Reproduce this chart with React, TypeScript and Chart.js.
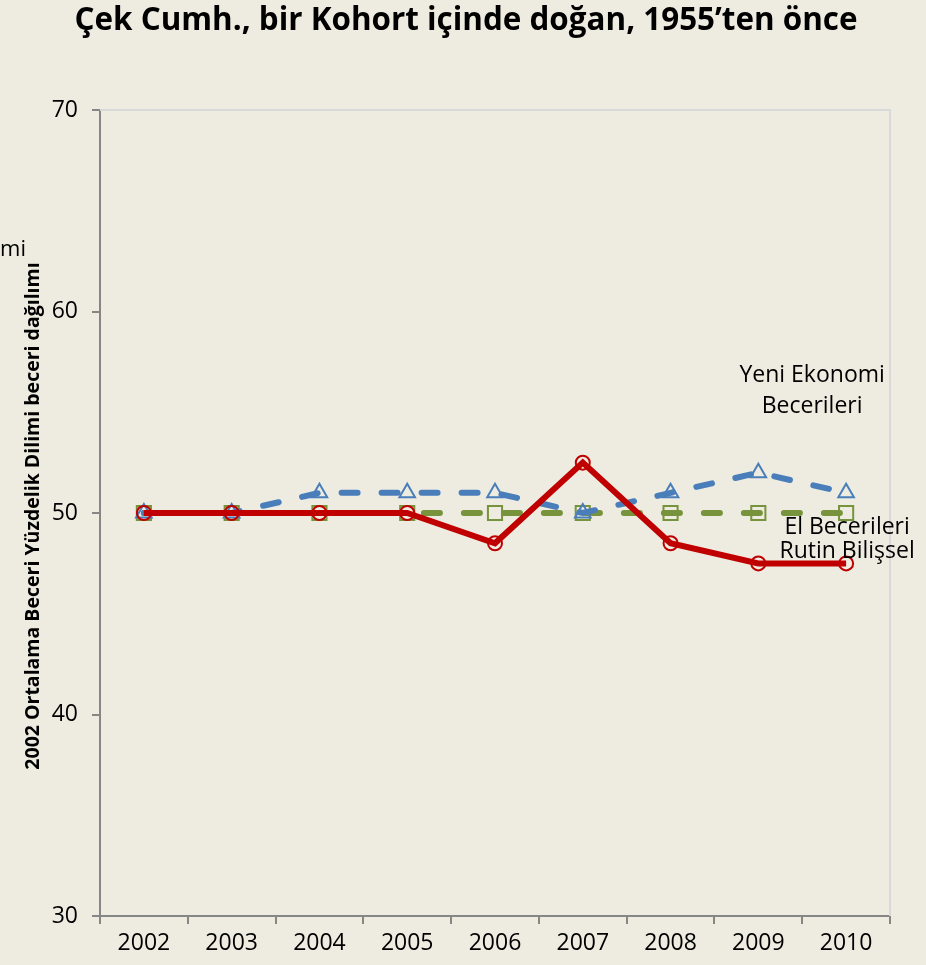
import React, { useEffect, useRef } from "react";
import { Chart, registerables } from "chart.js";

Chart.register(...registerables);

const years = ["2002", "2003", "2004", "2005", "2006", "2007", "2008", "2009", "2010"];
const yeniEkonomi = [50, 50, 51, 51, 51, 50, 51, 52, 51];
const elBecerileri = [50, 50, 50, 50, 50, 50, 50, 50, 50];
const rutinBilissel = [50, 50, 50, 50, 48.5, 52.5, 48.5, 47.5, 47.5];
const yTicks = [30, 40, 50, 60, 70];

const titleText = "Çek Cumh., bir Kohort içinde doğan, 1955’ten önce";
const yTitleText = "2002 Ortalama Beceri Yüzdelik Dilimi beceri dağılımı";

const BG = "#EEECE1";
const FONT = "'Open Sans', sans-serif";

const decorPlugin = {
  id: "decor",
  beforeDraw(chart: any) {
    const { ctx, width, height } = chart;
    ctx.save();
    ctx.fillStyle = BG;
    ctx.fillRect(0, 0, width, height);
    ctx.restore();
  },
  beforeDatasetsDraw(chart: any) {
    const { ctx, chartArea } = chart;
    ctx.save();
    ctx.strokeStyle = "#D9D9D9";
    ctx.lineWidth = 2;
    ctx.beginPath();
    ctx.moveTo(chartArea.left, chartArea.top);
    ctx.lineTo(chartArea.right, chartArea.top);
    ctx.lineTo(chartArea.right, chartArea.bottom);
    ctx.stroke();
    ctx.restore();
  },
  afterDraw(chart: any) {
    const { ctx, width, chartArea } = chart;
    const xs = chart.scales.x;
    const ys = chart.scales.y;
    ctx.save();
    ctx.fillStyle = "#000";
    ctx.font = `bold 31.4px ${FONT}`;
    ctx.textAlign = "center";
    ctx.textBaseline = "middle";
    ctx.fillText(titleText, width / 2 + 3, 21);
    ctx.save();
    ctx.translate(33, (chartArea.top + chartArea.bottom) / 2 + 3);
    ctx.rotate(-Math.PI / 2);
    ctx.font = `bold 19.5px ${FONT}`;
    ctx.fillText(yTitleText, 0, 0);
    ctx.restore();
    ctx.font = `22px ${FONT}`;
    ctx.textAlign = "right";
    ctx.fillText("Dilimi", 26, 250);
    ctx.font = `23px ${FONT}`;
    ctx.textAlign = "center";
    const last = xs.getPixelForValue(years.length - 1);
    ctx.fillText("Yeni Ekonomi", last - 34, ys.getPixelForValue(56.85));
    ctx.fillText("Becerileri", last - 34, ys.getPixelForValue(55.3));
    ctx.fillText("El Becerileri", last + 1, ys.getPixelForValue(49.3));
    ctx.fillText("Rutin Bilişsel", last + 1, ys.getPixelForValue(48.1));
    ctx.restore();
  },
};

export default function App() {
  const ref = useRef<HTMLCanvasElement | null>(null);
  useEffect(() => {
    if (!ref.current) return;
    const chart = new Chart(ref.current, {
      type: "line",
      data: {
        labels: years,
        datasets: [
          {
            label: "Rutin Bilişsel",
            data: rutinBilissel,
            borderColor: "#C00000",
            borderWidth: 6,
            pointStyle: "circle",
            pointRadius: 7,
            pointBorderWidth: 2,
            pointBorderColor: "#C00000",
            pointBackgroundColor: "rgba(0,0,0,0)",
            tension: 0,
            order: 0,
          },
          {
            label: "Yeni Ekonomi Becerileri",
            data: yeniEkonomi,
            borderColor: "#4A7EBB",
            borderWidth: 6,
            borderDash: [16, 24],
            borderCapStyle: "round",
            pointStyle: "triangle",
            pointRadius: 9,
            pointBorderWidth: 2,
            pointBorderColor: "#4A7EBB",
            pointBackgroundColor: "rgba(0,0,0,0)",
            tension: 0,
            order: 1,
          },
          {
            label: "El Becerileri",
            data: elBecerileri,
            borderColor: "#77933C",
            borderWidth: 6,
            borderDash: [16, 24],
            borderCapStyle: "round",
            pointStyle: "rect",
            pointRadius: 10,
            pointBorderWidth: 2,
            pointBorderColor: "#77933C",
            pointBackgroundColor: "rgba(0,0,0,0)",
            tension: 0,
            order: 2,
          },
        ],
      },
      options: {
        animation: false,
        responsive: false,
        layout: { padding: { left: 0, right: 36, top: 110, bottom: 0 } },
        plugins: { legend: { display: false }, tooltip: { enabled: false }, title: { display: false } },
        scales: {
          x: {
            offset: true,
            grid: { drawOnChartArea: false, offset: true, tickLength: 8, color: "#868686", lineWidth: 2 },
            border: { color: "#868686", width: 2 },
            ticks: { color: "#000", font: { family: FONT, size: 23 }, padding: 6 },
            afterFit(scale: any) {
              scale.height = 49;
            },
          },
          y: {
            min: 30,
            max: 70,
            afterBuildTicks(scale: any) {
              scale.ticks = yTicks.map((v) => ({ value: v }));
            },
            grid: { drawOnChartArea: false, tickLength: 8, color: "#868686", lineWidth: 2 },
            border: { color: "#868686", width: 2 },
            ticks: { color: "#000", font: { family: FONT, size: 23 }, padding: 14 },
            afterFit(scale: any) {
              scale.width = 100;
            },
          },
        },
      },
      plugins: [decorPlugin],
    } as any);
    return () => chart.destroy();
  }, []);
  return (
    <div style={{ position: "fixed", left: 0, top: 0, width: 926, height: 965, background: BG }}>
      <canvas ref={ref} width={926} height={965} style={{ width: 926, height: 965, display: "block" }} />
    </div>
  );
}
